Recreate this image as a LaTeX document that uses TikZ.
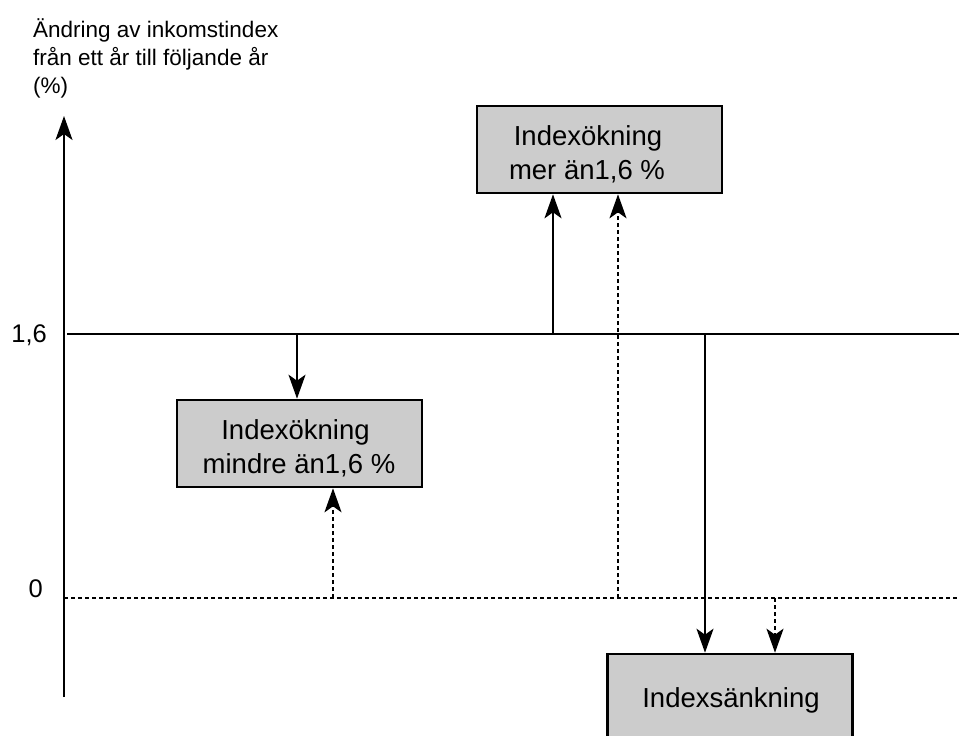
\documentclass[tikz,border=0pt]{standalone}
\usepackage{fontspec}
\setmainfont{Liberation Sans}
\usetikzlibrary{arrows.meta}
\definecolor{boxgray}{RGB}{204,204,204}
\begin{document}
\begin{tikzpicture}[x=1pt,y=-1pt,
  ln/.style={line width=2.3pt},
  dotln/.style={line width=2.2pt, dash pattern=on 4pt off 3pt},
  arr/.style={-{Stealth[length=24pt,width=17pt,inset=6pt]}},
  box/.style={draw, line width=2.6pt, fill=boxgray, minimum width=245pt, minimum height=87pt, inner sep=0pt},
  btxt/.style={font=\fontsize{27.5}{34}\selectfont, inner sep=0pt, anchor=base},
  ttxt/.style={font=\fontsize{22.5}{28}\selectfont, inner sep=0pt, anchor=base west},
  ltxt/.style={font=\fontsize{25.5}{30}\selectfont, inner sep=0pt, anchor=base east}]
\useasboundingbox (0,0) rectangle (959,736);
\clip (0,0) rectangle (959,736);
% title
\node[ttxt] (t1) at (33,37) {Ändring av inkomstindex};
\node[ttxt] (t2) at (33,65) {från ett år till följande år};
\node[ttxt] (t3) at (33,93) {(\%)};
% axis
\coordinate (o) at (64,697);
\coordinate (ytop) at (64,116);
\draw[ln,arr] (o) -- (ytop);
% level lines
\coordinate (la) at (67,334);
\coordinate (lb) at (959,334);
\coordinate (za) at (64,598);
\coordinate (zb) at (959,598);
\draw[ln] (la) -- (lb);
\draw[dotln] (za) -- (zb);
\node[ltxt] (l16) at (47,342) {1,6};
\node[ltxt] (l0) at (43,597) {0};
% boxes
\node[box] (up) at (599.5,149.5) {};
\node[btxt] (up1) at (588,145) {Indexökning};
\node[btxt] (up2) at (587,179) {mer än1,6 \%};
\node[box] (mid) at (299.5,443.5) {};
\node[btxt] (mid1) at (295.5,439) {Indexökning};
\node[btxt] (mid2) at (299,473) {mindre än1,6 \%};
\node[box] (down) at (730,697.5) {};
\node[btxt] (down1) at (731,707) {Indexsänkning};
% connectors
\coordinate (s1) at (553,334);
\coordinate (s2) at (618,598);
\coordinate (s3) at (297,334);
\coordinate (s4) at (333,598);
\coordinate (s5) at (705,334);
\coordinate (s6) at (775,598);
\draw[ln,arr] (s1) -- (s1 |- up.south);
\draw[dotln,arr] (s2) -- (s2 |- up.south);
\draw[ln,arr] (s3) -- (s3 |- mid.north);
\draw[dotln,arr] (s4) -- (s4 |- mid.south);
\draw[ln,arr] (s5) -- (s5 |- down.north);
\draw[dotln,arr] (s6) -- (s6 |- down.north);
\end{tikzpicture}
\end{document}
